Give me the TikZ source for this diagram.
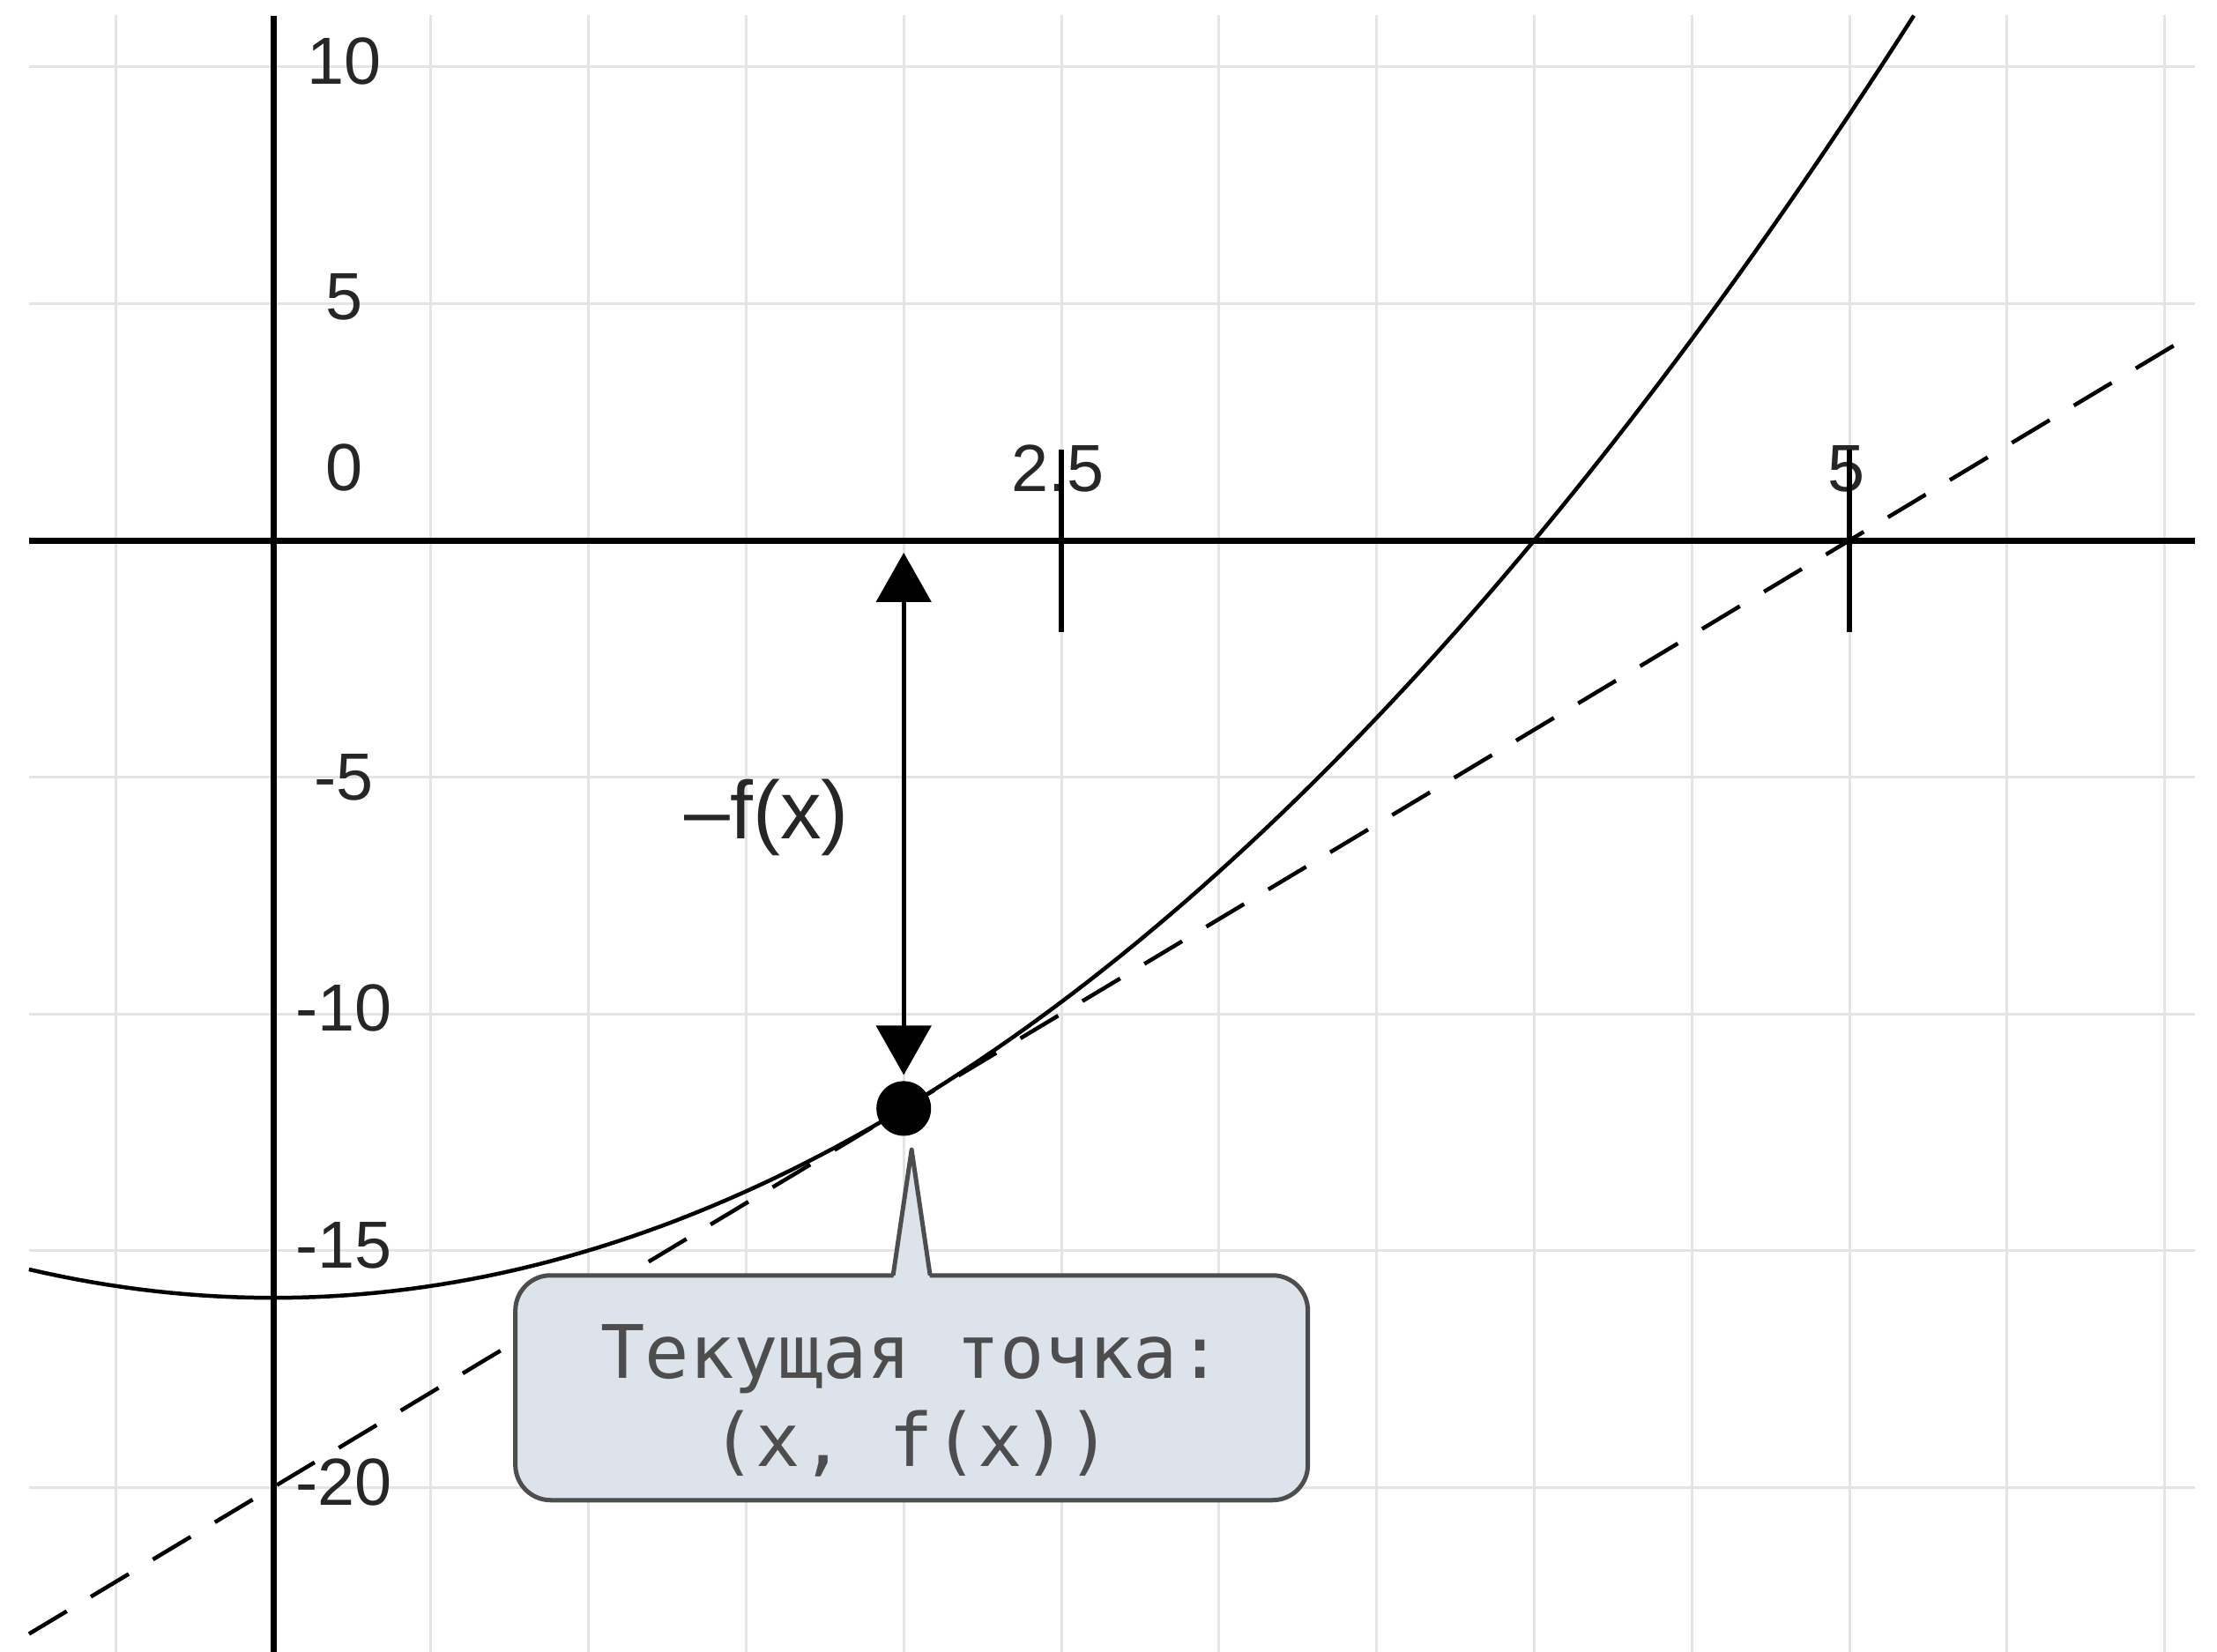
\documentclass[tikz,border=0pt]{standalone}
\usepackage{fontspec}
\setmainfont{Liberation Sans}
\newfontfamily\calloutfont{DejaVu Sans Mono}
\usetikzlibrary{arrows.meta}
\definecolor{gridgray}{HTML}{E4E4E4}
\definecolor{boxfill}{HTML}{DCE3EB}
\definecolor{boxline}{HTML}{4D4D4D}

\begin{document}
\begin{tikzpicture}[
    x=3.576cm, y=0.537cm,
    >={Triangle[width=0.62cm,length=0.56cm]},
    gridline/.style={gridgray, line width=0.03cm},
    axisline/.style={black, line width=0.07cm},
    tickline/.style={black, line width=0.06cm},
    curveline/.style={black, line width=0.045cm},
    tangentline/.style={black, line width=0.045cm, dash pattern=on 0.5cm off 0.32cm},
    ticktext/.style={font=\fontsize{21.5}{26}\selectfont, text=black!85, inner sep=0pt},
    fxtext/.style={font=\fontsize{26.5}{30}\selectfont, text=black!85, inner sep=0pt},
    dot/.style={circle, fill=black, minimum size=0.62cm, inner sep=0pt, outer sep=0.07cm},
    callout/.style={draw=boxline, fill=boxfill, line width=0.05cm, rounded corners=0.4cm,
        minimum width=8.99cm, minimum height=2.55cm, align=center, text=boxline,
        font=\calloutfont\fontsize{23.8}{28.5}\selectfont}
]
\useasboundingbox (-0.8669,-23.482) rectangle (6.1661,11.415);

\foreach \gx in {-0.5,0.5,1,...,6}
    \draw[gridline] (\gx,-23.482) -- (\gx,11.1);
\foreach \gy in {-20,-15,...,10}
    \draw[gridline] (-0.775,\gy) -- (6.096,\gy);

\draw[axisline] (-0.775,0) -- (6.096,0);
\draw[axisline] (0,11.08) -- (0,-23.482);

\foreach \val/\yy [count=\i] in {10/10.13, 5/5.14, 0/1.53, -5/-5, -10/-9.87, -15/-14.9, -20/-19.9}
    \node[ticktext] (ylab\i) at (0.224,\yy) {\val};
\node[ticktext] (xlab1) at (2.49,1.51) {2.5};
\node[ticktext] (xlab2) at (4.99,1.51) {5};

\foreach \tx in {2.5,5}
    \draw[tickline] (\tx,1.92) -- (\tx,-1.94);

\draw[tangentline] (-0.775,-23.1) -- (6.096,4.384);
\draw[curveline] plot[domain=-0.775:5.206, samples=120] (\x,{\x*\x-16});

\node[fxtext] (fx) at (1.565,-5.85) {–f(x)};

\coordinate (axfoot) at (2,-0.26);
\node[dot] (cur) at (2,-12) {};
\draw[<->, black, line width=0.05cm] (axfoot) -- (cur);

\node[callout] (note) at (2.025,-17.9) {\rule{0pt}{0.9cm}Текущая точка:\\(x, f(x))};
\coordinate (tip) at ([yshift=1.4cm]note.north);
\fill[boxfill] ([xshift=-0.21cm,yshift=-0.08cm]note.north) -- (tip)
    -- ([xshift=0.21cm,yshift=-0.08cm]note.north) -- cycle;
\draw[boxline, line width=0.05cm, line join=round]
    ([xshift=-0.21cm,yshift=-0.025cm]note.north) -- (tip)
    -- ([xshift=0.21cm,yshift=-0.025cm]note.north);

\end{tikzpicture}
\end{document}
